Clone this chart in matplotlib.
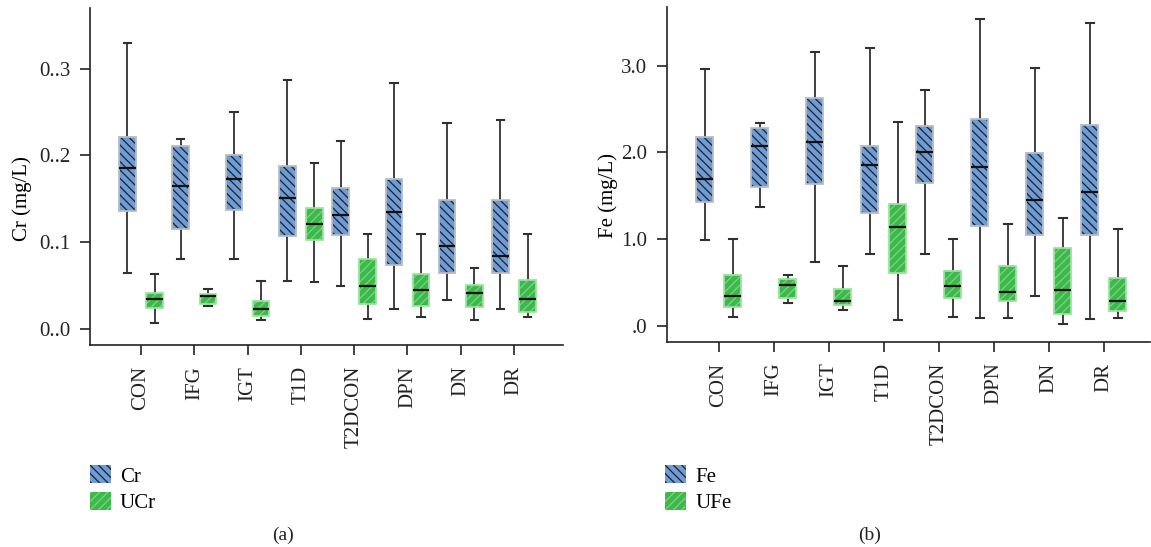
import matplotlib
matplotlib.use('Agg')
import matplotlib.pyplot as plt
from matplotlib.patches import Patch, PathPatch

plt.rcParams['font.family'] = ['Liberation Serif', 'DejaVu Serif']
plt.rcParams['hatch.linewidth'] = 0.9

groups = ['CON', 'IFG', 'IGT', 'T1D', 'T2DCON', 'DPN', 'DN', 'DR']

# Cr (blood)
cr_lo  = [0.064, 0.081, 0.081, 0.055, 0.050, 0.023, 0.033, 0.023]
cr_q1  = [0.136, 0.115, 0.137, 0.107, 0.108, 0.074, 0.064, 0.065]
cr_med = [0.185, 0.165, 0.173, 0.151, 0.131, 0.135, 0.096, 0.084]
cr_q3  = [0.221, 0.211, 0.200, 0.188, 0.162, 0.173, 0.149, 0.149]
cr_hi  = [0.330, 0.219, 0.250, 0.287, 0.217, 0.284, 0.238, 0.241]
# UCr (urine)
ucr_lo  = [0.007, 0.027, 0.010, 0.054, 0.011, 0.014, 0.010, 0.014]
ucr_q1  = [0.024, 0.029, 0.015, 0.102, 0.029, 0.026, 0.025, 0.020]
ucr_med = [0.034, 0.038, 0.023, 0.121, 0.050, 0.045, 0.041, 0.035]
ucr_q3  = [0.041, 0.040, 0.032, 0.140, 0.081, 0.063, 0.051, 0.056]
ucr_hi  = [0.063, 0.046, 0.055, 0.191, 0.110, 0.110, 0.070, 0.110]
# Fe (blood)
fe_lo  = [0.99, 1.37, 0.74, 0.83, 0.83, 0.09, 0.34, 0.08]
fe_q1  = [1.43, 1.60, 1.64, 1.30, 1.65, 1.15, 1.05, 1.05]
fe_med = [1.69, 2.07, 2.12, 1.86, 2.01, 1.83, 1.45, 1.54]
fe_q3  = [2.18, 2.28, 2.63, 2.08, 2.31, 2.39, 1.99, 2.32]
fe_hi  = [2.96, 2.34, 3.16, 3.21, 2.72, 3.54, 2.97, 3.50]
# UFe (urine)
ufe_lo  = [0.10, 0.26, 0.18, 0.07, 0.10, 0.09, 0.02, 0.09]
ufe_q1  = [0.22, 0.32, 0.24, 0.61, 0.32, 0.28, 0.13, 0.17]
ufe_med = [0.34, 0.47, 0.28, 1.14, 0.46, 0.39, 0.41, 0.29]
ufe_q3  = [0.59, 0.54, 0.42, 1.41, 0.63, 0.69, 0.90, 0.55]
ufe_hi  = [1.00, 0.59, 0.69, 2.35, 1.00, 1.17, 1.24, 1.12]

cr_ticks = [0.0, 0.1, 0.2, 0.3]
cr_ticklabels = ['0..0', '0..1', '0..2', '0..3']
fe_ticks = [0.0, 1.0, 2.0, 3.0]
fe_ticklabels = ['.0', '1.0', '2.0', '3.0']

BLUE = '#6f9cd4'
BLUE_HATCH = '#1a2230'
BLUE_EDGE = '#b8bcc4'
GREEN = '#3db84b'
GREEN_HATCH = '#7ad680'
GREEN_EDGE = '#9be49f'
LINE = '#303030'
HATCH_B = '\\' * 4
HATCH_G = '/' * 4


def make_stats(lo, q1, med, q3, hi):
    return [dict(whislo=a, q1=b, med=c, q3=d, whishi=e, fliers=[])
            for a, b, c, d, e in zip(lo, q1, med, q3, hi)]


def draw(ax, stats, positions, face, hatch, hatchcol, edgecol):
    art = ax.bxp(stats, positions=positions, widths=0.31, patch_artist=True,
                 showfliers=False, capwidths=0.14, manage_ticks=False,
                 boxprops=dict(facecolor=face, edgecolor=hatchcol, linewidth=0,
                               hatch=hatch),
                 whiskerprops=dict(color=LINE, lw=1.3),
                 capprops=dict(color=LINE, lw=1.5),
                 medianprops=dict(color='#111111', lw=1.6, zorder=4))
    for b in art['boxes']:
        ax.add_patch(PathPatch(b.get_path(), transform=b.get_transform(),
                               fill=False, edgecolor=edgecol, lw=1.3, zorder=3))


fig = plt.figure(figsize=(11.51, 5.47), dpi=100)
ax1 = fig.add_axes([0.0782, 0.3693, 0.411, 0.616])
ax2 = fig.add_axes([0.5795, 0.3753, 0.4196, 0.612])

x = list(range(len(groups)))
off = 0.255

panels = [
    (ax1, make_stats(cr_lo, cr_q1, cr_med, cr_q3, cr_hi),
     make_stats(ucr_lo, ucr_q1, ucr_med, ucr_q3, ucr_hi),
     (-0.0185, 0.370), (-0.957, 7.92), cr_ticks, cr_ticklabels, 'Cr (mg/L)',
     ['Cr', 'UCr'], 0.078, '(a)', 283, (-0.122, 0.436)),
    (ax2, make_stats(fe_lo, fe_q1, fe_med, fe_q3, fe_hi),
     make_stats(ufe_lo, ufe_q1, ufe_med, ufe_q3, ufe_hi),
     (-0.185, 3.68), (-0.945, 7.84), fe_ticks, fe_ticklabels, 'Fe (mg/L)',
     ['Fe', 'UFe'], 0.578, '(b)', 870, (-0.102, 0.438)),
]

for (ax, s_blood, s_urine, ylim, xlim, yt, ytl, ylab, leg, lx, cap, cx, lc) in panels:
    draw(ax, s_blood, [p - off for p in x], BLUE, HATCH_B, BLUE_HATCH, BLUE_EDGE)
    draw(ax, s_urine, [p + off for p in x], GREEN, HATCH_G, GREEN_HATCH, GREEN_EDGE)
    ax.set_ylim(*ylim)
    ax.set_xlim(*xlim)
    ax.set_yticks(yt)
    ax.set_yticklabels(ytl, fontsize=15)
    ax.set_xticks(x)
    ax.set_xticklabels(groups, rotation=90, fontsize=15)
    ax.set_ylabel(ylab, fontsize=15)
    ax.yaxis.set_label_coords(*lc)
    for sp in ['top', 'right']:
        ax.spines[sp].set_visible(False)
    for sp in ['left', 'bottom']:
        ax.spines[sp].set_color('#222222')
        ax.spines[sp].set_linewidth(1.2)
    ax.tick_params(axis='both', direction='out', length=7, width=1.2,
                   color='#222222', labelcolor='#222222')
    ax.tick_params(axis='x', pad=8)
    ax.tick_params(axis='y', pad=7)
    handles = [Patch(facecolor=BLUE, edgecolor=BLUE_HATCH, hatch=HATCH_B, lw=0, label=leg[0]),
               Patch(facecolor=GREEN, edgecolor=GREEN_HATCH, hatch=HATCH_G, lw=0, label=leg[1])]
    fig.legend(handles=handles, loc='upper left', bbox_to_anchor=(lx, 0.149),
               frameon=False, fontsize=15, borderpad=0, borderaxespad=0,
               handlelength=1.0, handleheight=0.95, handletextpad=0.45,
               labelspacing=0.25)
    fig.text(cx / 1151, 1 - 535 / 547, cap, ha='center', va='center',
             fontsize=14, color='#222222')

fig.savefig('out.png', dpi=100)
